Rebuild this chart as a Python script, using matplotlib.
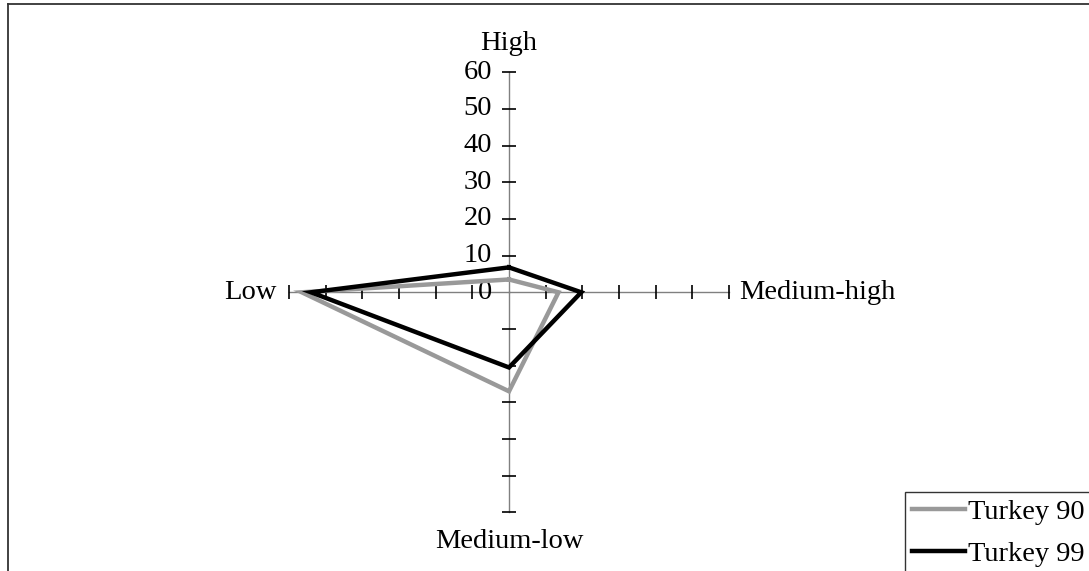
import matplotlib
matplotlib.use("Agg")
import matplotlib.pyplot as plt
from matplotlib.lines import Line2D
import numpy as np

plt.rcParams['font.family'] = ['Liberation Serif', 'DejaVu Serif']

categories = ["High", "Medium-high", "Medium-low", "Low"]
turkey90 = [3.5, 13.5, 27.0, 56.5]
turkey99 = [6.8, 19.7, 20.5, 54.0]
series_names = ["Turkey 90", "Turkey 99"]
tick_values = [0, 10, 20, 30, 40, 50, 60]
rmax = 60

W, H = 1089, 571
fig = plt.figure(figsize=(W / 100, H / 100), dpi=100)
ax = fig.add_axes([0, 0, 1, 1])
scale = 220 / 60.0  # px per unit
cx, cy = 509, 292.3
ax.set_xlim(-cx / scale, (W - cx) / scale)
ax.set_ylim(-(H - cy) / scale, cy / scale)
ax.axis('off')

# directions: High (up), Medium-high (right), Medium-low (down), Low (left)
dirs = [(0, 1), (1, 0), (0, -1), (-1, 0)]

axis_color = '#808080'
for (dx, dy) in dirs:
    ax.plot([0, dx * rmax], [0, dy * rmax], color=axis_color, lw=1.0, zorder=1)
    tv = np.array(tick_values[1:])
    marker = '|' if dy == 0 else '_'
    ax.plot(dx * tv, dy * tv, linestyle='none', marker=marker, markersize=9.5,
            markeredgewidth=1.2, color='black', zorder=1)

fs = 20.5
for v in tick_values:
    ax.text(-17 / scale, v, str(v), ha='right', va='center', fontsize=fs)

ax.text(0, (292.3 - 43) / scale, categories[0], ha='center', va='center', fontsize=fs)
ax.text(rmax + 10 / scale, 0, categories[1], ha='left', va='center', fontsize=fs)
ax.text(0, -(541.7 - 292.3) / scale, categories[2], ha='center', va='center', fontsize=fs)
ax.text(-rmax - 12 / scale, 0, categories[3], ha='right', va='center', fontsize=fs)

colors = ['#999999', '#000000']
handles = []
for vals, col, name in zip([turkey90, turkey99], colors, series_names):
    xs = [dx * v for (dx, dy), v in zip(dirs, vals)]
    ys = [dy * v for (dx, dy), v in zip(dirs, vals)]
    xs.append(xs[0]); ys.append(ys[0])
    h, = ax.plot(xs, ys, color=col, lw=3.2, solid_joinstyle='miter', zorder=3, label=name)
    handles.append(h)

leg = fig.legend(handles=handles, loc='upper left',
                 bbox_to_anchor=(905 / W, 1 - 492 / H), bbox_transform=fig.transFigure,
                 fontsize=fs, frameon=True, fancybox=False, edgecolor='black',
                 handlelength=1.85, handletextpad=0.1, labelspacing=0.55,
                 borderpad=0.25, borderaxespad=0)
leg.get_frame().set_linewidth(1.0)

# outer border (top and left)
fig.add_artist(Line2D([7.5 / W, 1], [1 - 3.5 / H, 1 - 3.5 / H], transform=fig.transFigure,
                      color='#333333', lw=1.3))
fig.add_artist(Line2D([7.5 / W, 7.5 / W], [0, 1 - 3.5 / H], transform=fig.transFigure,
                      color='#333333', lw=1.3))

fig.savefig('out.png', dpi=100)
